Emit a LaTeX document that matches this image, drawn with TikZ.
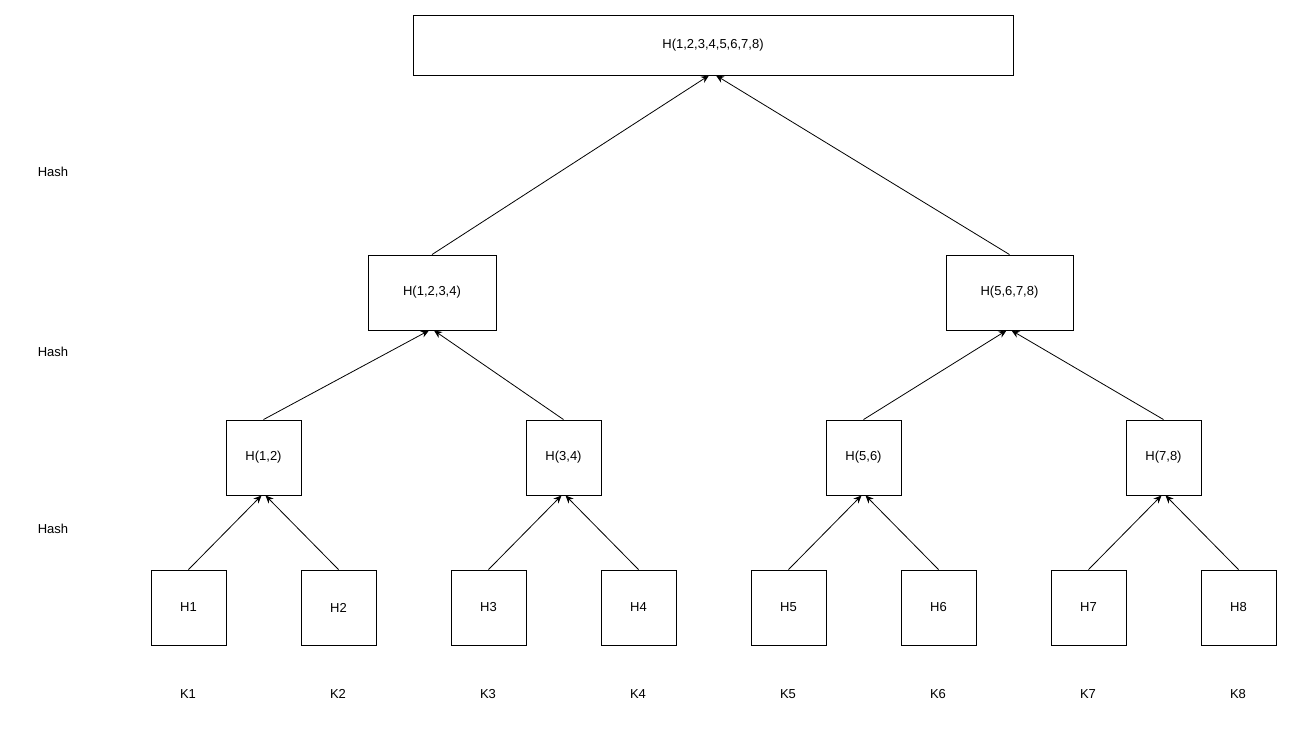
\documentclass[tikz,border=0pt]{standalone}
\usepackage{fontspec}
\setmainfont{Liberation Sans}
\usetikzlibrary{arrows.meta}
\begin{document}
\begin{tikzpicture}[x=1pt,y=-1pt,
  box/.style={draw,thick,line width=0.9pt,minimum width=#1,inner sep=0pt,font=\fontsize{13}{15}\selectfont},
  lbl/.style={font=\fontsize{13}{15}\selectfont},
  arr/.style={-{Stealth[length=8pt,width=7pt]},line width=0.8pt}]
\useasboundingbox (0,0) rectangle (1292,734);
\node[box=600pt,minimum height=60pt] (r) at (713,45) {H(1,2,3,4,5,6,7,8)};
\node[box=128pt,minimum height=75pt] (a) at (432,292.5) {H(1,2,3,4)};
\node[box=127pt,minimum height=75pt] (b) at (1009.5,292.5) {H(5,6,7,8)};
\foreach \i/\x/\t in {1/263.5/{H(1,2)},2/563.5/{H(3,4)},3/863.5/{H(5,6)},4/1163.5/{H(7,8)}}
  \node[box=75pt,minimum height=75pt] (m\i) at (\x,457.5) {\t};
\foreach \i in {1,...,8}{
  \node[box=75pt,minimum height=75pt] (h\i) at (38.5+150*\i,607.5) {H\i};
  \node[lbl] (k\i) at (38+150*\i,694) {K\i};
}
\node[lbl] (s1) at (53,172) {Hash};
\node[lbl] (s2) at (53,352) {Hash};
\node[lbl] (s3) at (53,529) {Hash};
\draw[arr] (a.north) -- ([xshift=-4pt]r.south);
\draw[arr] (b.north) -- ([xshift=3pt]r.south);
\draw[arr] (m1.north) -- ([xshift=-3pt]a.south);
\draw[arr] (m2.north) -- ([xshift=2pt]a.south);
\draw[arr] (m3.north) -- ([xshift=-3pt]b.south);
\draw[arr] (m4.north) -- ([xshift=2pt]b.south);
\foreach \i/\l/\r in {1/1/2,2/3/4,3/5/6,4/7/8}{
  \draw[arr] (h\l.north) -- ([xshift=-2pt]m\i.south);
  \draw[arr] (h\r.north) -- ([xshift=2pt]m\i.south);
}
\end{tikzpicture}
\end{document}
